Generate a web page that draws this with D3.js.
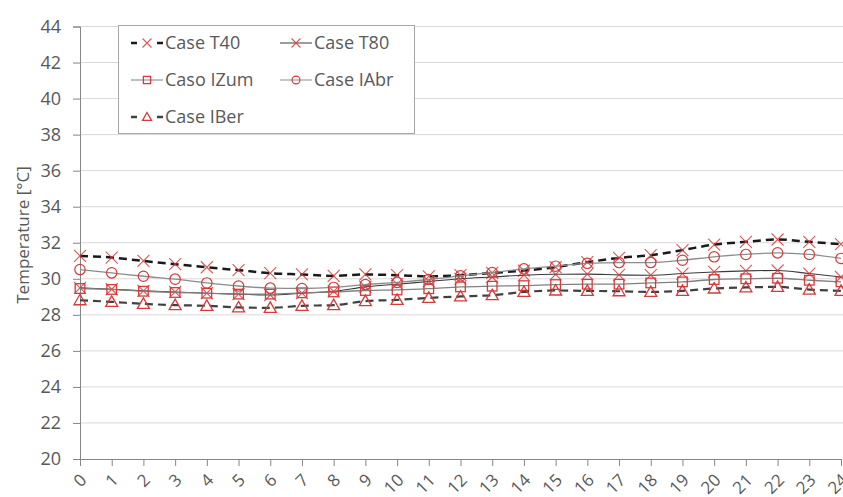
<!DOCTYPE html>
<html><head><meta charset="utf-8">
<script src="https://cdn.jsdelivr.net/npm/d3@7/dist/d3.min.js"></script>
<style>body{margin:0;background:#fff}svg{display:block}text{font-family:"Open Sans",sans-serif;fill:#595959}</style>
</head><body><svg id="c" width="843" height="497"></svg>
<script>
const hours = d3.range(0, 25);
const yTicks = [20,22,24,26,28,30,32,34,36,38,40,42,44];
const seriesNames = ["Case T40","Case T80","Caso IZum","Case IAbr","Case IBer"];
const caseT40 = [31.27,31.18,30.99,30.81,30.64,30.48,30.31,30.24,30.16,30.24,30.2,30.14,30.2,30.33,30.45,30.65,30.92,31.16,31.31,31.59,31.9,32.05,32.18,32.05,31.92];
const caseT80 = [29.5,29.42,29.33,29.27,29.2,29.15,29.1,29.2,29.3,29.55,29.7,29.85,30.0,30.1,30.2,30.25,30.26,30.22,30.2,30.29,30.38,30.44,30.46,30.29,30.1];
const casoIZum = [29.46,29.41,29.31,29.24,29.2,29.15,29.15,29.22,29.27,29.35,29.38,29.45,29.55,29.59,29.62,29.68,29.7,29.7,29.77,29.83,29.96,30.0,30.03,29.92,29.83];
const caseIAbr = [30.51,30.33,30.14,29.98,29.77,29.6,29.48,29.46,29.52,29.68,29.8,29.96,30.16,30.35,30.55,30.7,30.86,30.9,30.9,31.03,31.22,31.35,31.44,31.35,31.13];
const caseIBer = [28.81,28.72,28.61,28.54,28.5,28.41,28.39,28.5,28.54,28.76,28.83,28.94,29.02,29.09,29.27,29.35,29.33,29.31,29.27,29.33,29.46,29.52,29.55,29.4,29.33];

const svg = d3.select("#c");
const x = d3.scaleLinear().domain([0,24]).range([80,841]);
const y = d3.scaleLinear().domain([20,44]).range([459,26.5]);

// gridlines
svg.append("g").selectAll("line").data(yTicks.slice(1)).join("line")
  .attr("x1",80).attr("x2",843).attr("y1",d=>y(d)).attr("y2",d=>y(d))
  .attr("stroke","#d9d9d9").attr("stroke-width",1);

// y axis
const ya = svg.append("g").attr("transform","translate(80,0)")
  .call(d3.axisLeft(y).tickValues(yTicks).tickSize(7).tickPadding(12));
ya.select(".domain").attr("stroke","#868686");
ya.selectAll(".tick line").attr("stroke","#868686");
ya.selectAll("text").style("font-size","18px").attr("fill","#595959");

// x axis
const xa = svg.append("g").attr("transform","translate(0,459)")
  .call(d3.axisBottom(x).tickValues(hours).tickSize(7).tickSizeOuter(0).tickFormat(d3.format("d")));
xa.select(".domain").attr("stroke","#868686");
xa.selectAll(".tick line").attr("stroke","#868686");
xa.selectAll("text").style("font-size","17px").attr("fill","#595959")
  .attr("text-anchor","end").attr("dy","0.35em")
  .attr("transform","translate(3,18) rotate(-45)").attr("y",0).attr("x",0);

// y title
svg.append("text").attr("transform","translate(29,235) rotate(-90)")
  .attr("text-anchor","middle").style("font-size","17px").text("Temperature [°C]");

const red = "#d63a3a";
const cfg = [
  {data:caseT40, stroke:"#1a1a1a", w:2.5, dash:"8,5", marker:"x"},
  {data:caseT80, stroke:"#3a3a3a", w:1.1, dash:null, marker:"x"},
  {data:casoIZum, stroke:"#808080", w:1.3, dash:null, marker:"sq"},
  {data:caseIAbr, stroke:"#8c8c8c", w:1.3, dash:null, marker:"ci"},
  {data:caseIBer, stroke:"#404040", w:2.2, dash:"8,5", marker:"tr"}
];
const line = d3.line().x((d,i)=>x(hours[i])).y(d=>y(d)).curve(d3.curveMonotoneX);

function drawMarker(g, type, cx, cy, s) {
  s = s||1;
  if (type==="x") {
    const r=6*s;
    g.append("path").attr("d",`M${cx-r},${cy-r}L${cx+r},${cy+r}M${cx-r},${cy+r}L${cx+r},${cy-r}`)
      .attr("stroke",red).attr("stroke-width",1.1).attr("fill","none").attr("opacity",0.85);
  } else if (type==="sq") {
    const r=4.8*s;
    g.append("rect").attr("x",cx-r).attr("y",cy-r).attr("width",2*r).attr("height",2*r)
      .attr("stroke",red).attr("stroke-width",1.3).attr("fill","none");
  } else if (type==="ci") {
    g.append("circle").attr("cx",cx).attr("cy",cy).attr("r",5.2*s)
      .attr("stroke",red).attr("stroke-width",1.2).attr("fill","none");
  } else if (type==="tr") {
    const r=6*s;
    g.append("path").attr("d",`M${cx},${cy-r}L${cx+r},${cy+r*0.75}L${cx-r},${cy+r*0.75}Z`)
      .attr("stroke",red).attr("stroke-width",1.3).attr("fill","none");
  }
}

cfg.forEach(c=>{
  const g = svg.append("g");
  g.append("path").attr("d",line(c.data)).attr("fill","none")
    .attr("stroke",c.stroke).attr("stroke-width",c.w).attr("stroke-dasharray",c.dash);
  c.data.forEach((v,i)=>drawMarker(g,c.marker,x(hours[i]),y(v)));
});

// legend
const lg = svg.append("g");
lg.append("rect").attr("x",118.5).attr("y",25.5).attr("width",296).attr("height",108)
  .attr("fill","#fff").attr("stroke","#a6a6a6");
const pos = [[131,43],[280,43],[131,80],[280,80],[131,117]];
cfg.forEach((c,i)=>{
  const [lx,ly]=pos[i];
  lg.append("line").attr("x1",lx).attr("x2",lx+32).attr("y1",ly).attr("y2",ly)
    .attr("stroke",c.stroke).attr("stroke-width",c.dash?2.4:1).attr("stroke-dasharray",c.dash?"6,20,6":null);
  drawMarker(lg,c.marker,lx+16,ly,0.75);
  lg.append("text").attr("x",lx+34).attr("y",ly).attr("dy","0.35em").style("font-size","18px").text(seriesNames[i]);
});
</script></body></html>
